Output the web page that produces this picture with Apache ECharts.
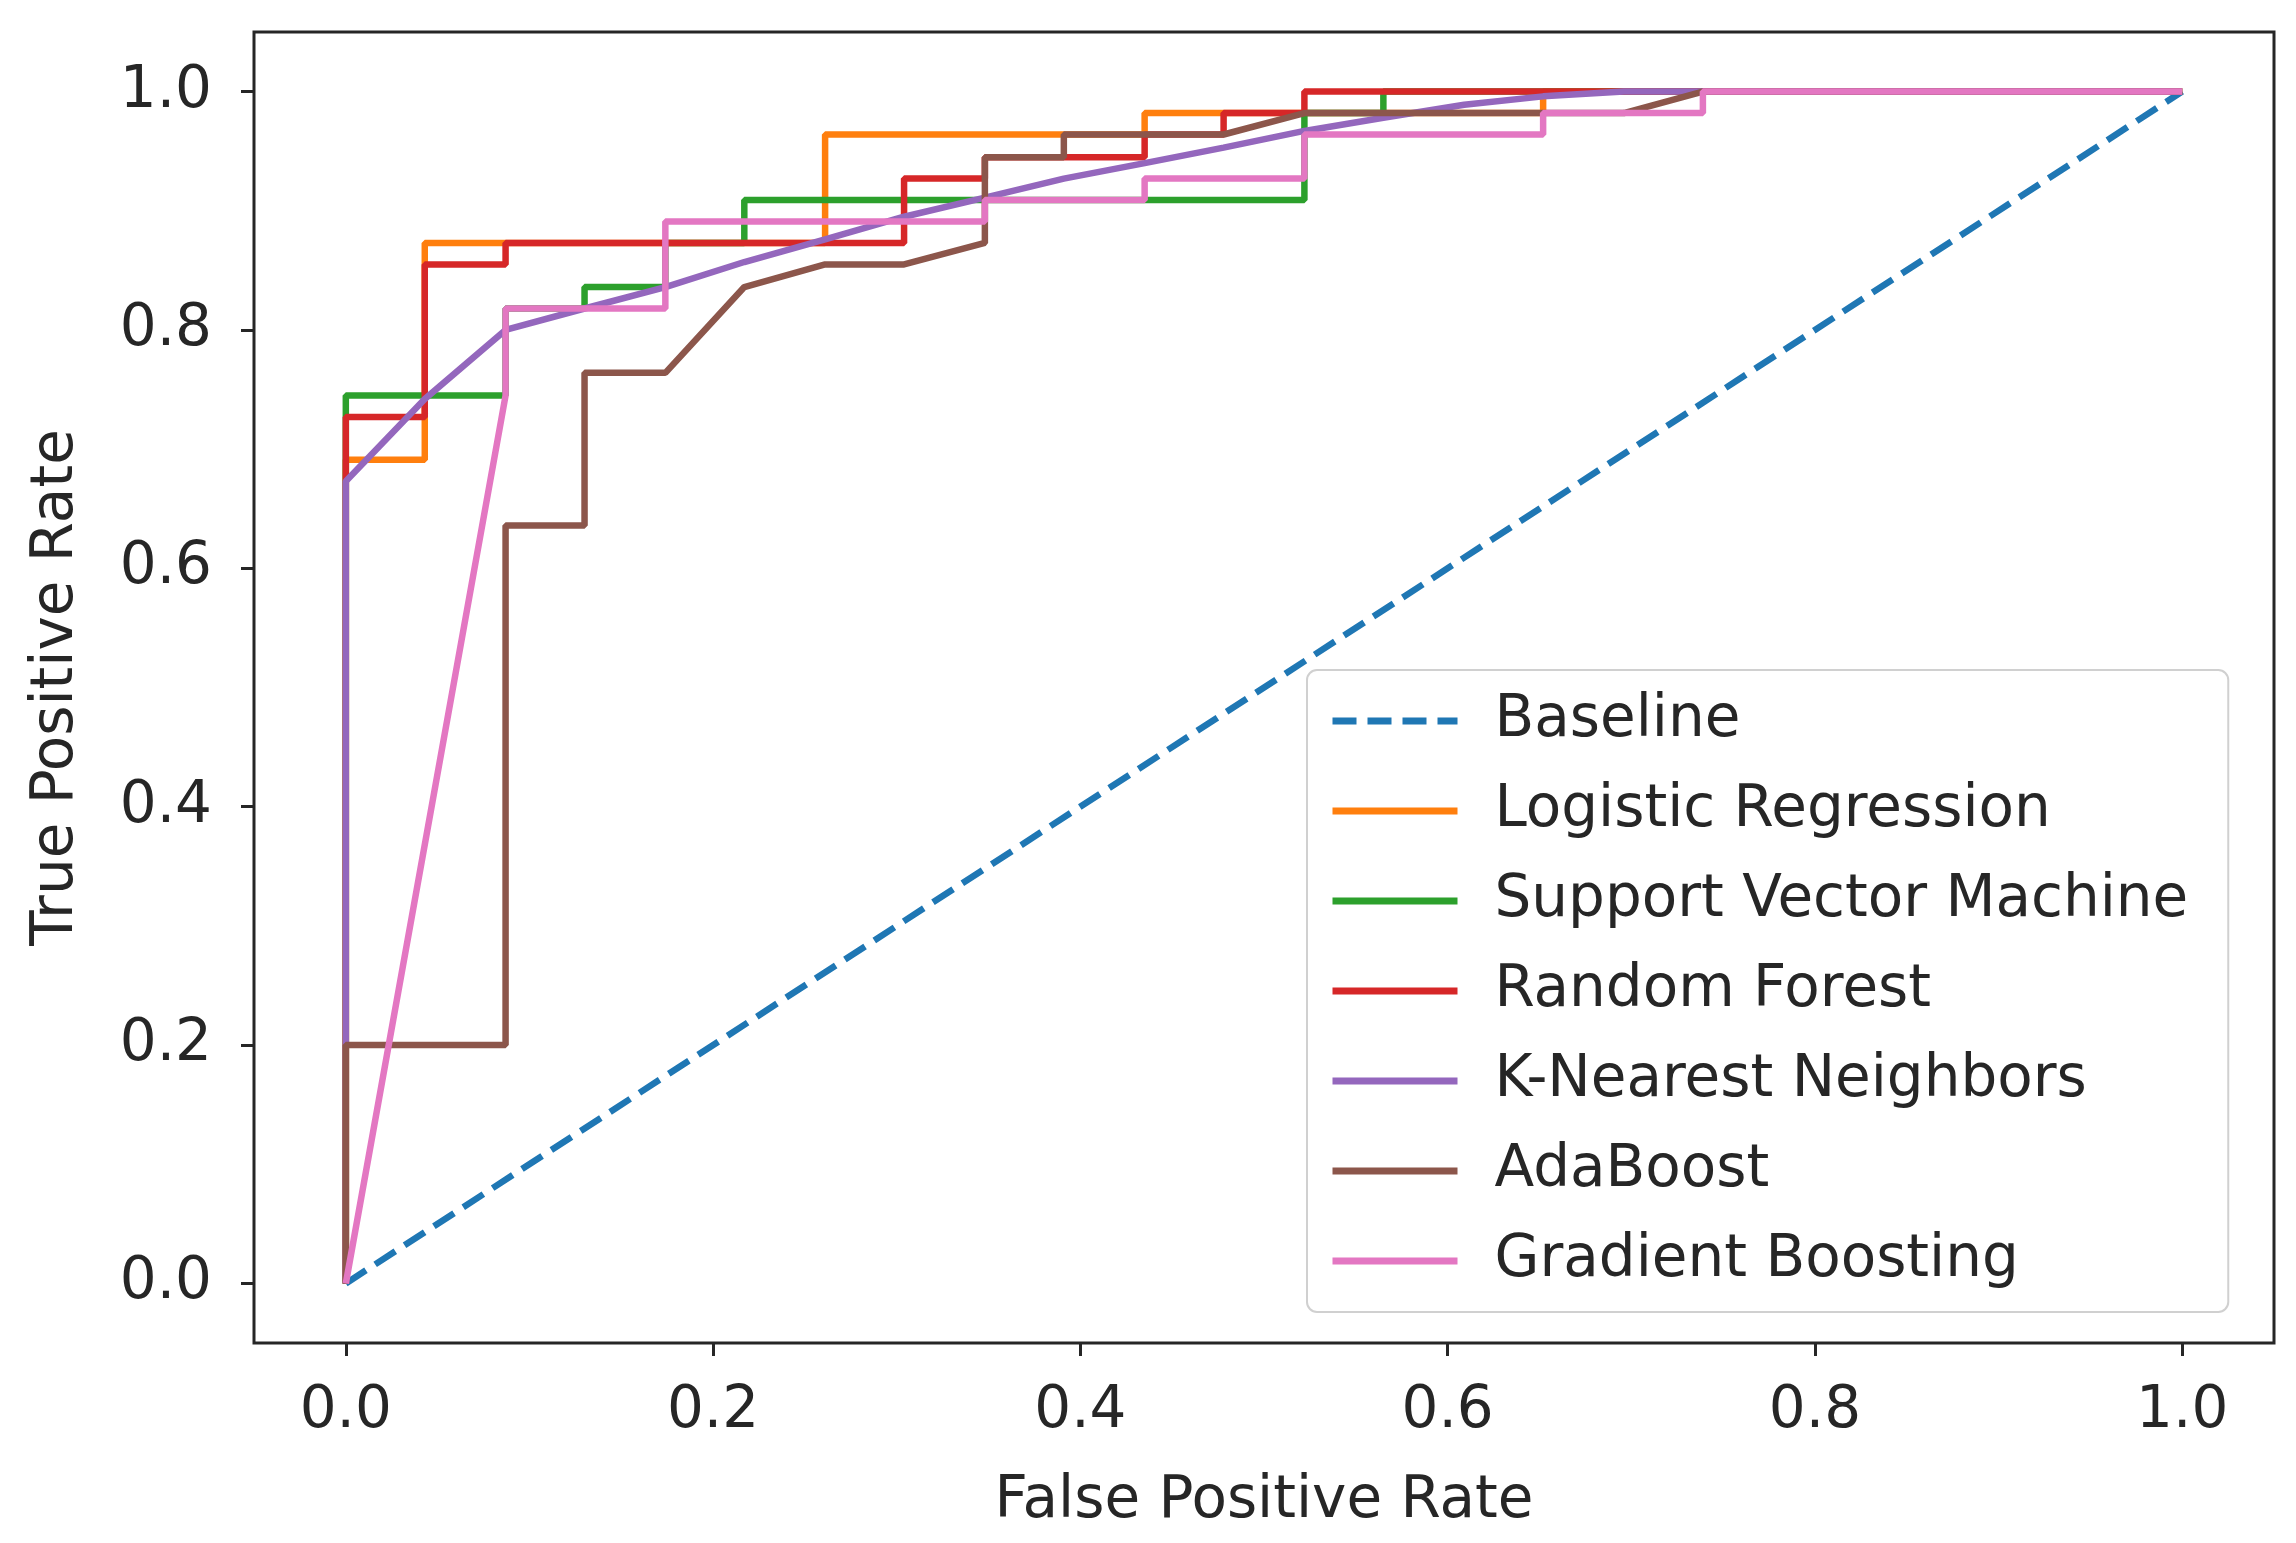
<!DOCTYPE html>
<html>
<head>
<meta charset="utf-8">
<script src="https://cdn.jsdelivr.net/npm/echarts@6/dist/echarts.min.js"></script>
<style>
html,body{margin:0;padding:0;background:#fff;}
#chart{width:2296px;height:1543px;}
</style>
</head>
<body>
<div id="chart"></div>
<script>
// Tick labels
var tickValues = [0, 0.2, 0.4, 0.6, 0.8, 1.0];

// Series names
var seriesNames = ['Baseline', 'Logistic Regression', 'Support Vector Machine', 'Random Forest',
  'K-Nearest Neighbors', 'AdaBoost', 'Gradient Boosting'];

// ROC curves: [FPR, TPR]
var baseline = [[0, 0], [1, 1]];

var logisticRegression = [[0, 0], [0, 0.691], [0.043, 0.691], [0.043, 0.873], [0.261, 0.873],
  [0.261, 0.964], [0.435, 0.964], [0.435, 0.982], [0.652, 0.982], [0.652, 1.0], [1, 1]];

var supportVectorMachine = [[0, 0], [0, 0.745], [0.087, 0.745], [0.087, 0.818], [0.130, 0.818],
  [0.130, 0.836], [0.174, 0.836], [0.174, 0.873], [0.217, 0.873], [0.217, 0.909], [0.522, 0.909],
  [0.522, 0.982], [0.565, 0.982], [0.565, 1.0], [1, 1]];

var randomForest = [[0, 0], [0, 0.727], [0.043, 0.727], [0.043, 0.855], [0.087, 0.855],
  [0.087, 0.873], [0.304, 0.873], [0.304, 0.927], [0.348, 0.927], [0.348, 0.945], [0.435, 0.945],
  [0.435, 0.964], [0.478, 0.964], [0.478, 0.982], [0.522, 0.982], [0.522, 1.0], [1, 1]];

var kNearestNeighbors = [[0, 0], [0, 0.673], [0.043, 0.742], [0.087, 0.800], [0.130, 0.818],
  [0.174, 0.836], [0.217, 0.857], [0.261, 0.876], [0.304, 0.895], [0.348, 0.911], [0.391, 0.927],
  [0.435, 0.940], [0.478, 0.953], [0.522, 0.967], [0.565, 0.978], [0.609, 0.989], [0.652, 0.996],
  [0.696, 1.0], [1, 1]];

var adaBoost = [[0, 0], [0, 0.2], [0.087, 0.2], [0.087, 0.636], [0.130, 0.636], [0.130, 0.764],
  [0.174, 0.764], [0.217, 0.836], [0.261, 0.855], [0.304, 0.855], [0.348, 0.873], [0.348, 0.945],
  [0.391, 0.945], [0.391, 0.964], [0.478, 0.964], [0.522, 0.982], [0.696, 0.982], [0.739, 1.0], [1, 1]];

var gradientBoosting = [[0, 0], [0.087, 0.745], [0.087, 0.818], [0.174, 0.818], [0.174, 0.891],
  [0.348, 0.891], [0.348, 0.909], [0.435, 0.909], [0.435, 0.927], [0.522, 0.927], [0.522, 0.964],
  [0.652, 0.964], [0.652, 0.982], [0.739, 0.982], [0.739, 1.0], [1, 1]];

var colors = ['#1f77b4', '#ff7f0e', '#2ca02c', '#d62728', '#9467bd', '#8c564b', '#e377c2'];
var allData = [baseline, logisticRegression, supportVectorMachine, randomForest,
  kNearestNeighbors, adaBoost, gradientBoosting];

var FONT = "'DejaVu Sans', sans-serif";
var TXT = '#262626';
var LW = 6.5;

var series = allData.map(function (d, i) {
  return {
    name: seriesNames[i],
    type: 'line',
    data: d,
    symbol: 'none',
    animation: false,
    z: 2 + i,
    lineStyle: {
      color: colors[i],
      width: LW,
      type: i === 0 ? [24, 11] : 'solid',
      cap: 'butt'
    },
    itemStyle: { color: colors[i], opacity: 0 }
  };
});

function fmt(v) { return v.toFixed(1); }

function makeAxis(name, gap, margin) {
  return {
    type: 'value',
    min: -0.05,
    max: 1.05,
    splitLine: { show: false },
    axisLine: { show: false, onZero: false },
    axisTick: {
      show: true, inside: false, length: 13,
      customValues: tickValues,
      lineStyle: { color: TXT, width: 3 }
    },
    axisLabel: {
      customValues: tickValues,
      margin: margin,
      fontFamily: FONT, fontSize: 58, color: TXT,
      formatter: fmt
    },
    name: name,
    nameLocation: 'middle',
    nameGap: gap,
    nameTextStyle: { fontFamily: FONT, fontSize: 58, color: TXT }
  };
}

var chart = echarts.init(document.getElementById('chart'), null, { renderer: 'canvas' });
chart.setOption({
  animation: false,
  backgroundColor: '#ffffff',
  color: colors,
  grid: {
    left: 254, right: 22, top: 32, bottom: 200,
    show: true, borderColor: TXT, borderWidth: 3, backgroundColor: 'transparent'
  },
  legend: {
    orient: 'vertical',
    left: 1307,
    top: 670,
    data: seriesNames,
    itemWidth: 125,
    itemHeight: 16,
    itemGap: 24,
    padding: [18, 40, 18, 22],
    backgroundColor: '#ffffff',
    borderColor: '#d0d0d0',
    borderWidth: 2,
    borderRadius: 10,
    lineStyle: { width: 7 },
    textStyle: {
      fontFamily: FONT, fontSize: 58, color: TXT, lineHeight: 66,
      padding: [0, 0, 0, 32]
    }
  },
  xAxis: makeAxis('False Positive Rate', 130, 40),
  yAxis: makeAxis('True Positive Rate', 168, 42),
  series: series
});
</script>
</body>
</html>
